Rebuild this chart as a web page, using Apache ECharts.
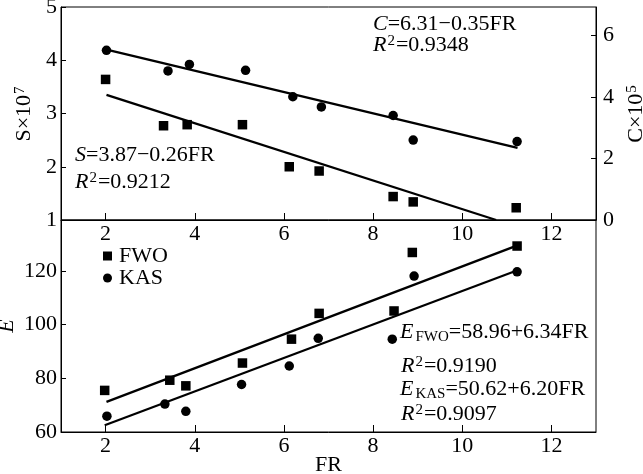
<!DOCTYPE html>
<html><head><meta charset="utf-8">
<script src="https://cdn.jsdelivr.net/npm/echarts@6/dist/echarts.min.js"></script>
<style>html,body{margin:0;padding:0;background:#fff}#c{width:643px;height:474px}</style>
</head><body><div id="c"></div>
<script>
// ---- data ----
const frTicks = [2, 4, 6, 8, 10, 12];
const sTicks = [1, 2, 3, 4, 5];
const cTicks = [0, 2, 4, 6];
const eTicks = [60, 80, 100, 120];
const sFR  = [2.00, 3.30, 3.83, 5.07, 6.12, 6.79, 8.45, 8.90, 11.21];
const sVal = [3.64, 2.77, 2.79, 2.79, 2.00, 1.92, 1.44, 1.34, 1.23];
const cFR  = [2.02, 3.40, 3.88, 5.14, 6.20, 6.84, 8.45, 8.90, 11.23];
const cVal = [5.52, 4.85, 5.06, 4.87, 4.01, 3.68, 3.40, 2.60, 2.55];
const sFitFR = [2.02, 10.76], sFitVal = [3.35, 1.0];
const cFitFR = [2.07, 11.24], cFitVal = [5.53, 2.35];
const fwoFR = [1.98, 3.44, 3.80, 5.07, 6.17, 6.79, 8.47, 8.88, 11.23];
const fwoE  = [75.5, 79.3, 77.2, 85.7, 94.6, 104.2, 105.1, 126.9, 129.3];
const kasFR = [2.03, 3.33, 3.80, 5.05, 6.12, 6.77, 8.43, 8.92, 11.23];
const kasE  = [65.9, 70.4, 67.7, 77.7, 84.6, 94.9, 94.6, 118.1, 119.7];
const fwoFitFR = [2.02, 11.15], fwoFitE = [71.2, 129.0];
const kasFitFR = [1.98, 11.15], kasFitE = [62.5, 119.7];

const zip = (a, b) => a.map((v, i) => [v, b[i]]);
const FONT = "'Liberation Serif', 'Times New Roman', serif";
const FS = 22;
const txt = { fontFamily: FONT, fontSize: FS, color: '#000' };
const rich = {
  i: { fontFamily: FONT, fontSize: FS, fontStyle: 'italic', color: '#000' },
  n: { fontFamily: FONT, fontSize: FS, color: '#000' },
  sup: { fontFamily: FONT, fontSize: 15, color: '#000', verticalAlign: 'top', padding: [0, 1, 8, 1] },
  sub: { fontFamily: FONT, fontSize: 15, color: '#000', padding: [10, 0, 0, 2] }
};

function xAx(gi) {
  return {
    type: 'value', gridIndex: gi, min: 1, max: 13,
    axisLine: { show: true, lineStyle: { color: '#000', width: 1 } },
    axisTick: { show: true, inside: true, length: 7, customValues: frTicks, lineStyle: { color: '#000' } },
    axisLabel: { customValues: frTicks, margin: 3, ...txt },
    splitLine: { show: false },
    name: gi === 1 ? 'FR' : '', nameLocation: 'middle', nameGap: 22, nameMoveOverlap: false,
    nameTextStyle: txt
  };
}
function yAx(gi, min, max, ticks, pos, name, gap, moveOverlap) {
  return {
    type: 'value', gridIndex: gi, min, max, position: pos,
    axisLine: { show: true, lineStyle: { color: '#000', width: 1 } },
    axisTick: { show: true, inside: true, length: 5, customValues: ticks, lineStyle: { color: '#000' } },
    axisLabel: { customValues: ticks, margin: pos === 'right' ? 7 : 4, ...txt },
    splitLine: { show: false },
    name, nameLocation: 'middle', nameRotate: 90, nameGap: gap, nameMoveOverlap: moveOverlap,
    nameTextStyle: { ...txt, rich }
  };
}

const chart = echarts.init(document.getElementById('c'), null, { renderer: 'canvas' });
const scat = (name, xi, yi, data, sym) => ({
  name, type: 'scatter', xAxisIndex: xi, yAxisIndex: yi, data, symbol: sym,
  symbolSize: 9.5, itemStyle: { color: '#000', opacity: 1 }, z: 3
});
const fit = (xi, yi, data) => ({
  type: 'line', xAxisIndex: xi, yAxisIndex: yi, data, symbol: 'none',
  lineStyle: { color: '#000', width: 2.3 }, silent: true, z: 2
});

chart.setOption({
  animation: false,
  backgroundColor: '#fff',
  grid: [
    { left: 61, top: 7, width: 535, height: 213, show: true, borderColor: '#000', borderWidth: 1, outerBoundsMode: 'none', containLabel: false },
    { left: 61, top: 220, width: 535, height: 212, show: true, borderColor: '#000', borderWidth: 1, outerBoundsMode: 'none', containLabel: false }
  ],
  xAxis: [xAx(0), xAx(1)],
  yAxis: [
    yAx(0, 1, 5, sTicks, 'left', '{n|S×10}{sup|7}', 23, true),
    yAx(0, 0, 6.93, cTicks, 'right', '{n|C×10}{sup|5}', 24, true),
    yAx(1, 60, 139, eTicks, 'left', '{i|E}', 43, false)
  ],
  legend: {
    orient: 'vertical', left: 98, top: 240, itemGap: 0, itemWidth: 9, itemHeight: 9,
    itemStyle: { opacity: 1 },
    textStyle: { ...txt, lineHeight: 17, padding: [0, 0, 0, 2] },
    data: [{ name: 'FWO', icon: 'rect' }, { name: 'KAS', icon: 'circle' }]
  },
  series: [
    scat('S', 0, 0, zip(sFR, sVal), 'rect'),
    scat('C', 0, 1, zip(cFR, cVal), 'circle'),
    fit(0, 0, zip(sFitFR, sFitVal)),
    fit(0, 1, zip(cFitFR, cFitVal)),
    scat('FWO', 1, 2, zip(fwoFR, fwoE), 'rect'),
    scat('KAS', 1, 2, zip(kasFR, kasE), 'circle'),
    fit(1, 2, zip(fwoFitFR, fwoFitE)),
    fit(1, 2, zip(kasFitFR, kasFitE))
  ],
  graphic: [
    { type: 'text', left: 373, top: 13, style: { text: '{i|C}{n|=6.31−0.35FR}', rich } },
    { type: 'text', left: 373, top: 34, style: { text: '{i|R}{sup|2}{n|=0.9348}', rich } },
    { type: 'text', left: 75, top: 144, style: { text: '{i|S}{n|=3.87−0.26FR}', rich } },
    { type: 'text', left: 75, top: 171, style: { text: '{i|R}{sup|2}{n|=0.9212}', rich } },
    { type: 'text', left: 400, top: 321, style: { text: '{i|E}{sub|FWO}{n|=58.96+6.34FR}', rich } },
    { type: 'text', left: 401, top: 355, style: { text: '{i|R}{sup|2}{n|=0.9190}', rich } },
    { type: 'text', left: 400, top: 378, style: { text: '{i|E}{sub|KAS}{n|=50.62+6.20FR}', rich } },
    { type: 'text', left: 401, top: 403, style: { text: '{i|R}{sup|2}{n|=0.9097}', rich } }
  ]
});
</script></body></html>
